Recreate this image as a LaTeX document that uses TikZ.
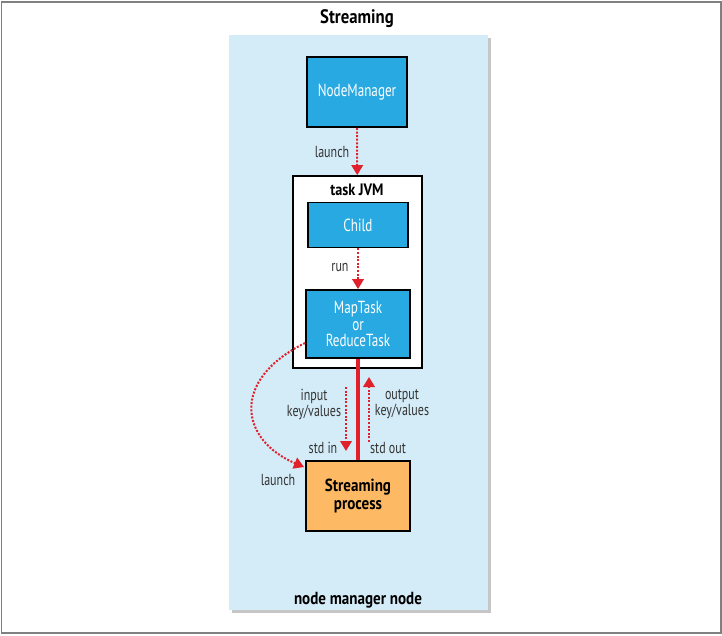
\documentclass[tikz,border=0pt]{standalone}
\usepackage{fontspec}
\setmainfont{PT Sans}[FakeStretch=0.75]
\newfontfamily\headfont{PT Sans}[FakeStretch=0.86]
\usetikzlibrary{arrows.meta,shadows}

\definecolor{panelblue}{HTML}{D4ECF8}
\definecolor{boxblue}{HTML}{29A9E1}
\definecolor{procorange}{HTML}{FDB964}
\definecolor{arrowred}{HTML}{E0202A}

\tikzset{
  daemon/.style={draw=black, line width=1.8pt, fill=boxblue, text=white,
    align=center, inner sep=0pt, font=\fontsize{17.5}{16.5}\selectfont},
  dotarrow/.style={arrowred, line width=2pt, dash pattern=on 2pt off 1.6pt,
    -{Triangle[length=10pt,width=11.5pt]}},
  lbl/.style={text=black!80, align=center, inner sep=0pt,
    font=\fontsize{16}{16}\selectfont},
  heading/.style={inner sep=0pt, font=\headfont\bfseries\fontsize{17.5}{18}\selectfont}
}

\begin{document}
\begin{tikzpicture}[x=1pt,y=-1pt]
  \useasboundingbox (0,0) rectangle (722,635);
  % 外框
  \draw[gray, line width=1.5pt] (1.5,2) rectangle (721,633);
  \node[heading, font=\headfont\bfseries\fontsize{19.5}{20}\selectfont] (title) at (357,19) {Streaming};

  % 节点管理器所在节点
  \fill[panelblue, drop shadow={shadow xshift=3pt, shadow yshift=-3pt, opacity=0.45}]
    (229,35) rectangle (488,610);
  \node[heading] (nmnode) at (358,600) {node manager node};

  % NodeManager
  \node[daemon, minimum width=100pt, minimum height=70pt] (nm) at (357,92) {NodeManager};

  % task JVM
  \node[draw=black, line width=1.8pt, fill=white, minimum width=129pt,
    minimum height=192pt] (jvm) at (357.5,272) {};
  \node[heading, font=\headfont\bfseries\fontsize{16.5}{17}\selectfont] (jvmlbl) at (357,190) {task JVM};
  \node[daemon, minimum width=100pt, minimum height=45pt] (child) at (358,225) {Child};
  \node[daemon, minimum width=104pt, minimum height=68pt] (task) at (358,324)
    {MapTask\\or\\ReduceTask};

  % Streaming 进程
  \node[draw=black, line width=1.8pt, fill=procorange, minimum width=104pt,
    minimum height=70pt, align=center, inner sep=0pt,
    font=\headfont\bfseries\fontsize{17.5}{17.5}\selectfont] (proc) at (358,496) {Streaming\\process};

  % 启动与运行
  \draw[dotarrow] (nm) -- (jvm);
  \node[lbl] (launch1) at (332,152) {launch};
  \draw[dotarrow] (child) -- (task);
  \node[lbl] (run) at (340,267) {run};

  % 管道
  \draw[arrowred, line width=4pt] (task) -- (proc);

  % 输入与输出
  \coordinate (in1) at (346,387);
  \coordinate (in2) at (346,451);
  \coordinate (out1) at (369,442);
  \coordinate (out2) at (369,377);
  \draw[dotarrow] (in1) -- (in2);
  \draw[dotarrow] (out1) -- (out2);
  \node[lbl] (inlbl) at (314,404) {input\\key/values};
  \node[lbl] (outlbl) at (402,404) {output\\key/values};
  \node[lbl] (stdin) at (323,448) {std in};
  \node[lbl] (stdout) at (388,448) {std out};

  % 启动 Streaming 进程
  \coordinate (c1) at (305,343);
  \coordinate (c2) at (304,467);
  \draw[dotarrow] (c1) .. controls (230,380) and (240,440) .. (c2);
  \node[lbl] (launch2) at (278,480) {launch};
\end{tikzpicture}
\end{document}
